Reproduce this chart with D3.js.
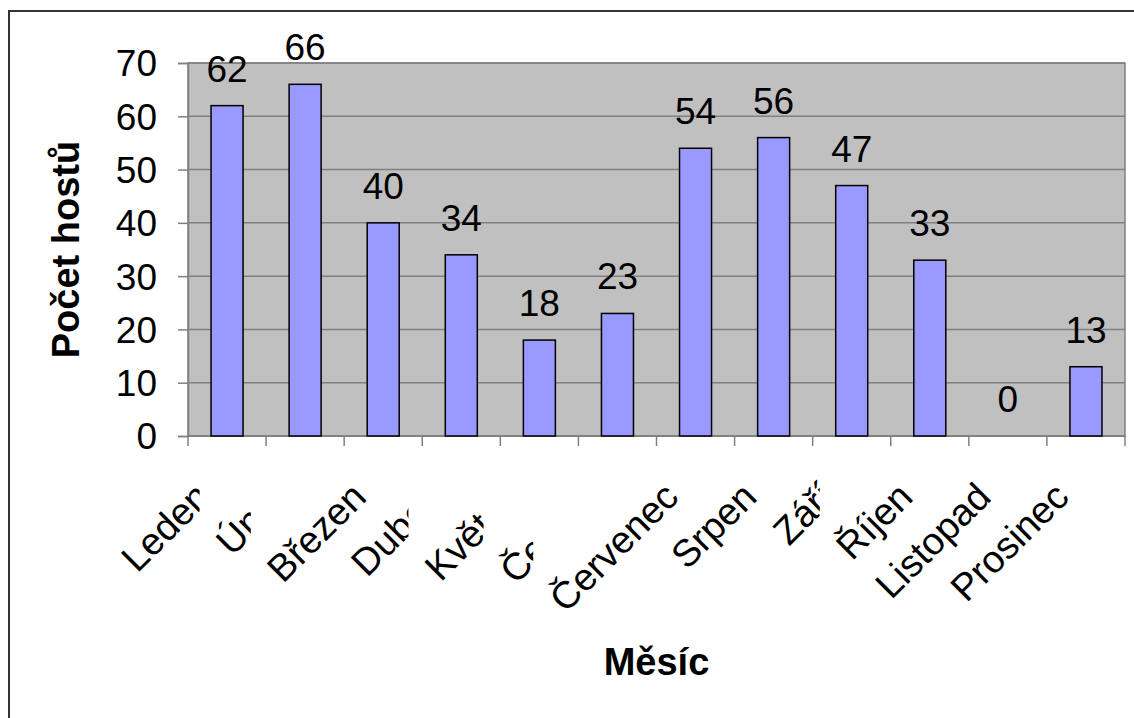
<!DOCTYPE html>
<html>
<head>
<meta charset="utf-8">
<script src="https://cdn.jsdelivr.net/npm/d3@7"></script>
<style>
  html, body { margin: 0; padding: 0; background: #fff; }
  svg { display: block; }
  text { font-family: "Liberation Sans", Arial, sans-serif; fill: #000; }
</style>
</head>
<body>
<svg id="chart" width="1134" height="718"></svg>
<script>
// Monthly guest counts
const months = ['Leden', 'Únor', 'Březen', 'Duben', 'Květen', 'Červen',
                'Červenec', 'Srpen', 'Září', 'Říjen', 'Listopad', 'Prosinec'];
const guests = [62, 66, 40, 34, 18, 23, 54, 56, 47, 33, 0, 13];
const yTicks = [0, 10, 20, 30, 40, 50, 60, 70];
// Category labels that are partly hidden under the following label's box
const overlappedLabels = ['Leden', 'Únor', 'Duben', 'Květen', 'Červen', 'Září'];
const yTitle = 'Počet hostů';
const xTitle = 'Měsíc';

const W = 1134, H = 718;
const plot = { left: 188, right: 1125, top: 63, bottom: 436 };
const FONT = 37;
const LABEL_FONT = 38;
const TITLE_FONT = 38;

const svg = d3.select('#chart');

// outer chart frame (runs off the right and bottom edges)
svg.append('rect')
  .attr('x', 9).attr('y', 11)
  .attr('width', W + 20).attr('height', H + 20)
  .attr('fill', '#fff')
  .attr('stroke', '#333').attr('stroke-width', 2);

const x = d3.scaleBand()
  .domain(months)
  .range([plot.left, plot.right])
  .paddingInner(0.59)
  .paddingOuter(0.295);

const y = d3.scaleLinear()
  .domain([0, 70])
  .range([plot.bottom, plot.top]);

// plot area
svg.append('rect')
  .attr('x', plot.left).attr('y', plot.top)
  .attr('width', plot.right - plot.left)
  .attr('height', plot.bottom - plot.top)
  .attr('fill', '#c0c0c0')
  .attr('stroke', '#808080').attr('stroke-width', 1.5);

// horizontal gridlines
svg.append('g')
  .selectAll('line')
  .data(yTicks)
  .join('line')
  .attr('x1', plot.left).attr('x2', plot.right)
  .attr('y1', d => y(d)).attr('y2', d => y(d))
  .attr('stroke', '#808080').attr('stroke-width', 1.5);

// y axis
const yAxis = svg.append('g')
  .attr('transform', `translate(${plot.left},0)`)
  .call(d3.axisLeft(y).tickValues(yTicks).tickSize(10).tickPadding(21));
yAxis.select('.domain').attr('stroke', '#808080').attr('stroke-width', 1.5);
yAxis.selectAll('.tick line').attr('stroke', '#808080').attr('stroke-width', 1.5);
yAxis.selectAll('.tick text')
  .attr('font-size', FONT)
  .attr('font-family', '"Liberation Sans", Arial, sans-serif')
  .attr('fill', '#000')
  .attr('dy', '0.35em');

// x axis line and tick marks on category boundaries
const gap = (x.step() - x.bandwidth()) / 2;
const boundaries = months.map(m => x(m) - gap).concat([plot.right]);
svg.append('line')
  .attr('x1', plot.left).attr('x2', plot.right)
  .attr('y1', plot.bottom).attr('y2', plot.bottom)
  .attr('stroke', '#808080').attr('stroke-width', 1.5);
svg.append('g')
  .selectAll('line')
  .data(boundaries)
  .join('line')
  .attr('x1', d => d).attr('x2', d => d)
  .attr('y1', plot.bottom).attr('y2', plot.bottom + 10)
  .attr('stroke', '#808080').attr('stroke-width', 1.5);

// bars
svg.append('g')
  .selectAll('rect')
  .data(months)
  .join('rect')
  .attr('x', d => x(d))
  .attr('width', x.bandwidth())
  .attr('y', (d, i) => y(guests[i]))
  .attr('height', (d, i) => y(0) - y(guests[i]))
  .attr('fill', '#9999ff')
  .attr('stroke', '#000').attr('stroke-width', 1.5);

// value labels
svg.append('g')
  .selectAll('text')
  .data(months)
  .join('text')
  .attr('x', d => x(d) + x.bandwidth() / 2)
  .attr('y', (d, i) => y(guests[i]) - 24)
  .attr('text-anchor', 'middle')
  .attr('font-size', FONT)
  .text((d, i) => guests[i]);

// rotated category labels
const labelX = m => x(m) + x.bandwidth() / 2 - 15;
const labelY = plot.bottom + 63;
const defs = svg.append('defs');
const labelLayer = svg.append('g');

const labelGroups = labelLayer.selectAll('g')
  .data(months)
  .join('g');

labelGroups.append('text')
  .attr('transform', d => `translate(${labelX(d)},${labelY}) rotate(-45)`)
  .attr('text-anchor', 'end')
  .attr('font-size', LABEL_FONT)
  .text(d => d);

// left edge of each label's box, used to cut the label before it
const leftEdge = {};
labelGroups.each(function (d) {
  const len = d3.select(this).select('text').node().getComputedTextLength();
  leftEdge[d] = labelX(d) - len * Math.SQRT1_2 - LABEL_FONT * 0.85;
});

labelGroups.each(function (d, i) {
  if (!overlappedLabels.includes(d) || i === months.length - 1) return;
  const cut = leftEdge[months[i + 1]];
  const id = 'cut-' + i;
  defs.append('clipPath').attr('id', id)
    .append('rect')
    .attr('x', 0).attr('y', 0)
    .attr('width', cut).attr('height', H);
  d3.select(this).attr('clip-path', `url(#${id})`);
});

// axis titles
svg.append('text')
  .attr('transform', `translate(79,${(plot.top + plot.bottom) / 2}) rotate(-90)`)
  .attr('text-anchor', 'middle')
  .attr('font-size', TITLE_FONT)
  .attr('font-weight', 'bold')
  .text(yTitle);

svg.append('text')
  .attr('x', (plot.left + plot.right) / 2)
  .attr('y', 675)
  .attr('text-anchor', 'middle')
  .attr('font-size', TITLE_FONT)
  .attr('font-weight', 'bold')
  .text(xTitle);
</script>
</body>
</html>
